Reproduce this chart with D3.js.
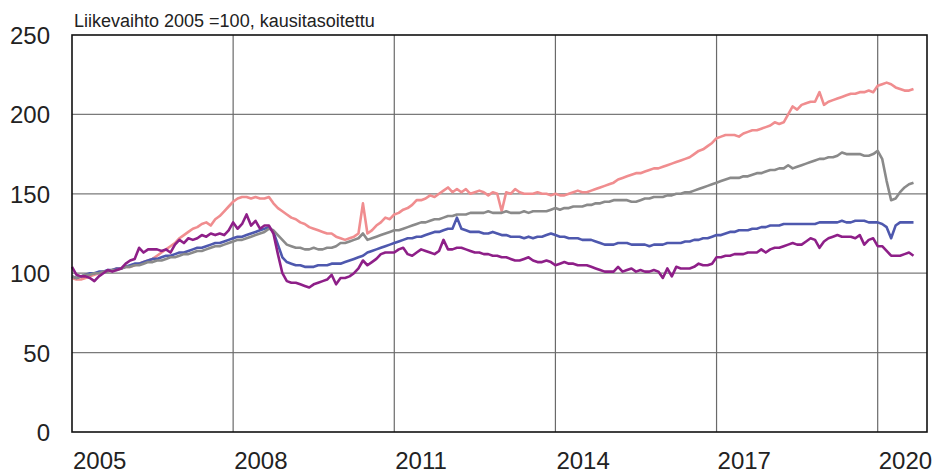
<!DOCTYPE html>
<html>
<head>
<meta charset="utf-8">
<script src="https://cdn.jsdelivr.net/npm/d3@7"></script>
<style>
  body { margin: 0; background: #fff; }
  text { font-family: 'Liberation Sans', Arial, sans-serif; fill: #222; }
</style>
</head>
<body>
<svg id="container"></svg>
<script>
// monthly values, Jan 2005 - Sep 2020
const startYear = 2005
const yearTicks = [2005, 2008, 2011, 2014, 2017, 2020]
const valueTicks = [0, 50, 100, 150, 200, 250]
const title = 'Liikevaihto 2005 =100, kausitasoitettu'

const pink = [
  97, 96, 96, 97, 98, 99, 100, 101, 101, 102, 103, 103,
  104, 104, 105, 106, 107, 108, 109, 111, 113, 115, 117, 119,
  122, 124, 126, 128, 129, 131, 132, 130, 134, 136, 139, 142,
  145, 147, 148, 148, 147, 148, 147, 147, 148, 144, 141, 139,
  137, 135, 134, 132, 131, 129, 128, 127, 126, 125, 125, 123,
  122, 121, 122, 123, 125, 144, 125, 127, 130, 132, 135, 134,
  137, 138, 140, 141, 143, 146, 146, 147, 149, 148, 150, 152,
  154, 151, 153, 151, 153, 150, 151, 152, 151, 149, 151, 150,
  139, 151, 150, 153, 151, 150, 150, 150, 151, 150, 150, 149,
  150, 149, 149, 150, 151, 152, 151, 151, 152, 153, 154, 155,
  156, 157, 159, 160, 161, 162, 163, 163, 164, 165, 166, 166,
  167, 168, 169, 170, 171, 172, 173, 175, 177, 178, 180, 182,
  185, 186, 187, 187, 187, 186, 188, 189, 190, 190, 191, 192,
  193, 195, 194, 195, 200, 205, 203, 206, 207, 208, 208, 214,
  206, 208, 209, 210, 211, 212, 213, 213, 214, 214, 215, 214,
  218, 219, 220, 219, 217, 216, 215, 215, 216
]

const gray = [
  98, 97, 98, 99, 99, 100, 100, 101, 101, 102, 102, 103,
  104, 104, 105, 105, 106, 107, 107, 108, 108, 109, 110, 110,
  111, 112, 112, 113, 114, 114, 115, 116, 117, 117, 118, 119,
  120, 121, 121, 122, 123, 124, 125, 126, 128, 127, 124, 121,
  118, 117, 116, 116, 115, 115, 116, 115, 115, 116, 116, 117,
  119, 119, 120, 121, 122, 125, 121, 122, 123, 124, 125, 126,
  127, 127, 128, 129, 130, 131, 132, 132, 133, 134, 134, 135,
  136, 136, 137, 137, 137, 138, 138, 138, 138, 139, 138, 138,
  138, 139, 138, 138, 138, 139, 138, 139, 139, 139, 139, 140,
  141, 140, 141, 141, 142, 142, 142, 143, 143, 144, 144, 145,
  145, 146, 146, 146, 146, 145, 145, 146, 147, 147, 148, 148,
  148, 149, 149, 150, 150, 151, 151, 152, 153, 154, 155, 156,
  157, 158, 159, 160, 160, 160, 161, 161, 162, 163, 163, 164,
  165, 165, 166, 166, 168, 166, 167, 168, 169, 170, 171, 172,
  172, 173, 173, 174, 176, 175, 175, 175, 175, 174, 174, 175,
  177, 172, 158, 146, 147, 151, 154, 156, 157
]

const blue = [
  98, 97, 98, 99, 100, 100, 101, 101, 102, 102, 103, 103,
  104, 105, 106, 106, 107, 108, 109, 109, 110, 111, 111, 112,
  113, 113, 114, 115, 116, 116, 117, 118, 119, 119, 120, 121,
  122, 123, 123, 124, 125, 126, 127, 128, 129, 126, 118, 110,
  107, 106, 105, 105, 104, 104, 104, 105, 105, 105, 106, 106,
  106, 107, 108, 109, 110, 111, 113, 114, 115, 116, 117, 118,
  119, 120, 121, 122, 122, 123, 123, 124, 125, 126, 126, 127,
  128, 128, 135, 128, 127, 126, 126, 126, 125, 125, 126, 125,
  124, 124, 123, 123, 123, 122, 123, 122, 123, 123, 124, 125,
  124, 123, 123, 122, 122, 122, 121, 121, 121, 120, 119, 118,
  118, 118, 119, 119, 119, 118, 118, 118, 118, 117, 118, 118,
  118, 119, 119, 119, 119, 120, 120, 121, 121, 122, 122, 123,
  124, 124, 125, 126, 126, 127, 127, 127, 128, 128, 129, 129,
  130, 130, 130, 131, 131, 131, 131, 131, 131, 131, 131, 132,
  132, 132, 132, 132, 133, 132, 132, 133, 133, 133, 132, 132,
  132, 131, 129, 122, 130, 132, 132, 132, 132
]

const purple = [
  104, 99, 98, 98, 97, 95, 98, 100, 102, 101, 102, 103,
  106, 108, 109, 116, 113, 115, 115, 115, 114, 115, 113, 118,
  121, 119, 122, 121, 122, 124, 123, 125, 124, 125, 124, 127,
  132, 128, 131, 137, 130, 133, 128, 130, 130, 125, 112, 100,
  95, 94, 94, 93, 92, 91, 93, 94, 95, 96, 99, 93,
  97, 97, 98, 100, 103, 108, 105, 107, 109, 112, 113, 113,
  113, 115, 116, 112, 111, 113, 115, 114, 113, 112, 114, 121,
  115, 115, 116, 116, 115, 114, 113, 113, 112, 112, 111, 111,
  110, 110, 109, 108, 108, 109, 110, 108, 107, 107, 108, 107,
  105, 106, 107, 106, 106, 105, 105, 105, 104, 103, 102, 101,
  101, 101, 104, 101, 102, 103, 101, 102, 101, 101, 102, 101,
  97, 103, 98, 104, 103, 103, 103, 104, 106, 105, 105, 106,
  110, 110, 111, 111, 112, 112, 112, 113, 113, 113, 115, 113,
  115, 116, 116, 117, 118, 119, 118, 118, 120, 122, 121, 116,
  120, 122, 123, 124, 123, 123, 123, 122, 124, 118, 121, 122,
  117, 117, 114, 111, 111, 111, 112, 113, 111
]

const series = [
  { name: 'pink', values: pink, color: '#f08d8f' },
  { name: 'blue', values: blue, color: '#4e58ae' },
  { name: 'gray', values: gray, color: '#8a8a8a' },
  { name: 'purple', values: purple, color: '#8e1f88' },
]

const W = 936,
  H = 473
const margin = { top: 35, right: 9, bottom: 41, left: 72 },
  w = W - margin.left - margin.right,
  h = H - margin.top - margin.bottom

const svg = d3.select('#container').attr('width', W).attr('height', H)

const g = svg
  .append('g')
  .attr('transform', `translate(${margin.left},${margin.top})`)

// right edge sits a bit after Nov 2020
const xScale = d3.scaleLinear().domain([2005, 2020.918]).range([0, w])
const yScale = d3.scaleLinear().domain([0, 250]).range([h, 0])

// grid
g.append('g')
  .selectAll('line')
  .data(valueTicks.filter((d) => d > 0 && d < 250))
  .enter()
  .append('line')
  .attr('x1', 0)
  .attr('x2', w)
  .attr('y1', (d) => yScale(d))
  .attr('y2', (d) => yScale(d))
  .attr('stroke', '#7a7a7a')
  .attr('stroke-width', 1.2)

g.append('g')
  .selectAll('line')
  .data(yearTicks.filter((d) => d > 2005))
  .enter()
  .append('line')
  .attr('x1', (d) => xScale(d))
  .attr('x2', (d) => xScale(d))
  .attr('y1', 0)
  .attr('y2', h)
  .attr('stroke', '#6a6a6a')
  .attr('stroke-width', 1.2)

// lines
const line = d3
  .line()
  .x((d, i) => xScale(startYear + i / 12))
  .y((d) => yScale(d))

g.selectAll('.series')
  .data(series)
  .enter()
  .append('path')
  .attr('class', 'series')
  .attr('fill', 'none')
  .attr('stroke', (d) => d.color)
  .attr('stroke-width', 2.6)
  .attr('stroke-linejoin', 'round')
  .attr('d', (d) => line(d.values))

// frame
g.append('rect')
  .attr('width', w)
  .attr('height', h)
  .attr('fill', 'none')
  .attr('stroke', '#111')
  .attr('stroke-width', 1.6)

// y labels
const yAxis = d3.axisLeft(yScale).tickValues(valueTicks).tickSize(0).tickPadding(22)
g.append('g')
  .call(yAxis)
  .call((a) => a.select('.domain').remove())
  .selectAll('text')
  .attr('font-size', 24)
  .attr('font-family', "'Liberation Sans', Arial, sans-serif")
  .attr('fill', '#222')
  .attr('dy', '0.35em')

// x labels, left aligned on the year line
g.append('g')
  .selectAll('text')
  .data(yearTicks)
  .enter()
  .append('text')
  .attr('x', (d) => xScale(d) + 1)
  .attr('y', h + 37)
  .attr('font-size', 24)
  .text((d) => d)

svg
  .append('text')
  .attr('x', 74)
  .attr('y', 27)
  .attr('font-size', 18)
  .text(title)
</script>
</body>
</html>
